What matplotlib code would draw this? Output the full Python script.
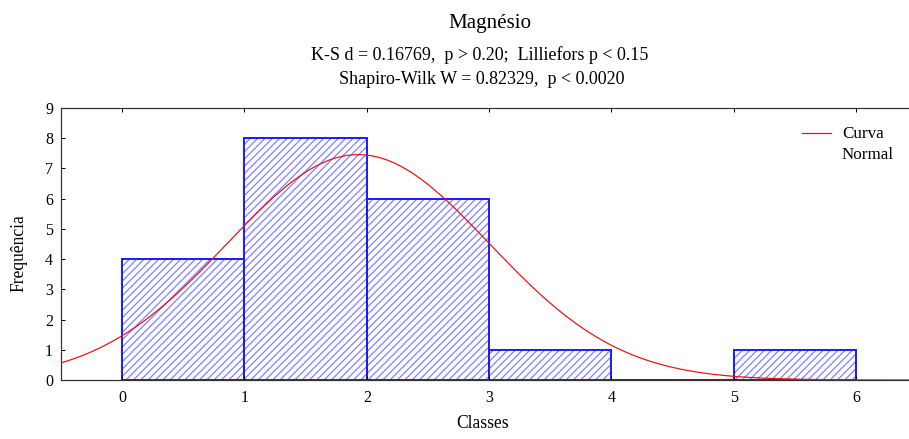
import numpy as np
import matplotlib
matplotlib.use("Agg")
import matplotlib.pyplot as plt

# Histogram classes (bin left edges), counts and fitted normal parameters
bin_edges = [0, 1, 2, 3, 4, 5]
counts = [4, 8, 6, 1, 0, 1]
bin_width = 1.0
n_obs = 20
fit_mean = 1.93
fit_sd = 1.07
x_ticks = [0, 1, 2, 3, 4, 5, 6]
y_ticks = [0, 1, 2, 3, 4, 5, 6, 7, 8, 9]

title = "Magnésio"
line_ks = "K-S d = 0.16769,  p > 0.20;  Lilliefors p < 0.15"
line_sw = "Shapiro-Wilk W = 0.82329,  p < 0.0020"

DPI = 88
W, H = 909, 439
px = 72.0 / DPI  # points per pixel

plt.rcParams['font.family'] = ['Liberation Serif', 'DejaVu Serif']

fig = plt.figure(figsize=(W / DPI, H / DPI), dpi=DPI)
ax = fig.add_axes([61 / W, 1 - 380 / H, 7 * 122.33 / W, 272 / H])

# hatched fill, then solid outline on top
ax.bar(bin_edges, counts, width=bin_width, align='edge', color='white',
       edgecolor='#7d7dff', hatch='////', linewidth=0)
ax.bar(bin_edges, counts, width=bin_width, align='edge', fill=False,
       edgecolor='#1a1aff', linewidth=1.6)

xs = np.linspace(-0.5, 6.5, 400)
ys = n_obs * bin_width / (fit_sd * np.sqrt(2 * np.pi)) * np.exp(-0.5 * ((xs - fit_mean) / fit_sd) ** 2)
ax.plot(xs, ys, color='#ee1111', linewidth=1.0, zorder=5)

ax.set_xlim(-0.5, 6.5)
ax.set_ylim(0, 9)
ax.set_xticks(x_ticks)
ax.set_yticks(y_ticks)
ax.tick_params(axis='both', direction='in', length=3, width=0.8,
               labelsize=16 * px, top=True)
ax.tick_params(axis='x', pad=10 * px)
ax.tick_params(axis='y', pad=8 * px)
for s in ax.spines.values():
    s.set_linewidth(1.0)
    s.set_color('#333333')

fig.text(490 / W, 1 - 28 / H, title, ha='center', va='baseline', fontsize=21 * px)
fig.text(480 / W, 1 - 60 / H, line_ks, ha='center', va='baseline', fontsize=18 * px)
fig.text(482 / W, 1 - 84 / H, line_sw, ha='center', va='baseline', fontsize=18 * px)

fig.text(19 / W, 1 - 253 / H, "Frequência", rotation=90, ha='center', va='center', fontsize=17.5 * px)
fig.text(483 / W, 1 - 424 / H, "Classes", ha='center', va='center', fontsize=17.5 * px)

# legend entry
fig.add_artist(plt.Line2D([802 / W, 831 / W], [1 - 133 / H, 1 - 133 / H],
                          color='#ee1111', linewidth=1.0))
fig.text(842 / W, 1 - 134 / H, "Curva", ha='left', va='center', fontsize=17 * px)
fig.text(842 / W, 1 - 155 / H, "Normal", ha='left', va='center', fontsize=17 * px)

fig.savefig("out.png", dpi=DPI)
